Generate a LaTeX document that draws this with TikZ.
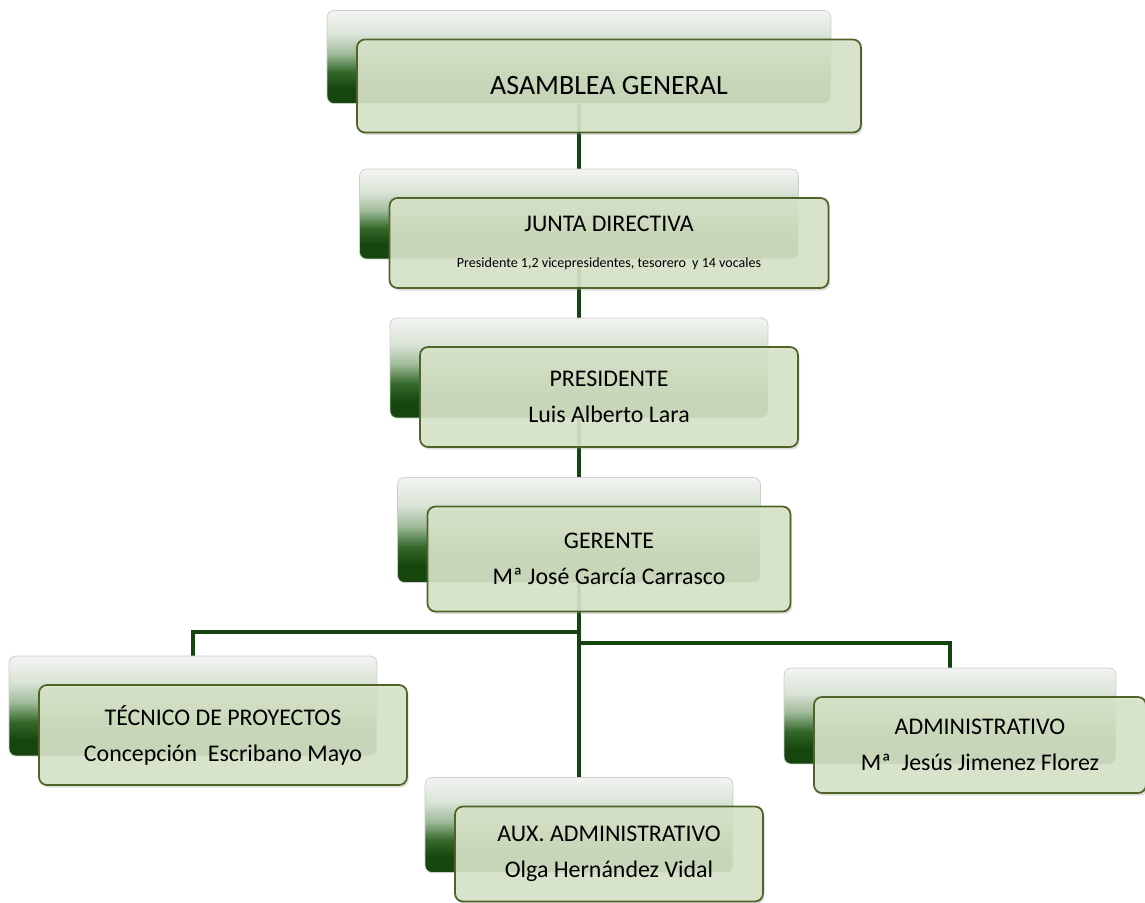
\documentclass[tikz,border=0pt]{standalone}
\usepackage{fontspec}
\setmainfont{Carlito}
\usetikzlibrary{calc, positioning, shadows, backgrounds}
\definecolor{LinkGreen}{RGB}{20,68,16}
\definecolor{FrontFill}{RGB}{216,228,201}
\definecolor{FrontEdge}{RGB}{80,100,42}
\definecolor{BackDark}{RGB}{22,70,14}
\definecolor{BackMid}{RGB}{52,104,42}
\definecolor{BackSoft}{RGB}{160,188,155}
\definecolor{BackLight}{RGB}{218,228,215}
\definecolor{BackTop}{RGB}{243,244,242}
\pgfdeclareverticalshading{backshade}{100bp}{color(0bp)=(BackDark); color(25bp)=(BackDark); color(33bp)=(BackDark); color(42bp)=(BackMid); color(52bp)=(BackSoft); color(62bp)=(BackLight); color(75bp)=(BackTop); color(100bp)=(BackTop)}
\tikzstyle{backbox} = [rectangle, rounded corners=4pt, draw=gray!40, line width=0.4pt, shading=backshade, inner sep=0pt,
	append after command={[draw=white, draw opacity=0.45, line width=1.2pt, rounded corners=3pt] ($(\tikzlastnode.north west)+(3pt,-3pt)$) rectangle ($(\tikzlastnode.south east)+(-3pt,3pt)$)}]
\tikzstyle{frontbox} = [rectangle, rounded corners=4.5pt, draw=FrontEdge, line width=1pt, fill=FrontFill, fill opacity=0.9, text opacity=1, inner sep=0pt, align=center, font=\fontsize{13.6}{20.5}\selectfont, drop shadow={opacity=0.25, shadow xshift=1pt, shadow yshift=-1.5pt},
	append after command={[draw=white, draw opacity=0.5, line width=1pt, rounded corners=3pt] ($(\tikzlastnode.north west)+(3pt,-3pt)$) rectangle ($(\tikzlastnode.south east)+(-3pt,3pt)$)}]
\tikzstyle{link} = [line width=1.8pt, draw=LinkGreen]

\begin{document}
\begin{tikzpicture}[x=0.02cm, y=-0.02cm]
	\useasboundingbox (0,0) rectangle (1145,902);
	
	\node (AsambleaBack) [backbox, minimum width=10.08cm, minimum height=1.86cm] at (579,57) {};
	\node (JuntaBack) [backbox, minimum width=8.78cm, minimum height=1.8cm] at (579,214) {};
	\node (PresidenteBack) [backbox, minimum width=7.56cm, minimum height=2cm] at (579,368) {};
	\node (GerenteBack) [backbox, minimum width=7.26cm, minimum height=2.1cm] at (579,530) {};
	\node (TecnicoBack) [backbox, minimum width=7.36cm, minimum height=2cm] at (193,706) {};
	\node (AuxBack) [backbox, minimum width=6.16cm, minimum height=1.9cm] at (579,825) {};
	\node (AdminBack) [backbox, minimum width=6.64cm, minimum height=1.92cm] at (950,716) {};
	
	\node (Asamblea) [frontbox, minimum width=10.08cm, minimum height=1.86cm, font=\fontsize{15.9}{19}\selectfont] at ($(AsambleaBack)+(30,29)$) {ASAMBLEA GENERAL};
	\node (Junta) [frontbox, minimum width=8.78cm, minimum height=1.8cm] at ($(JuntaBack)+(30,29)$) {JUNTA DIRECTIVA\\[0pt]{\fontsize{8}{9.6}\selectfont Presidente 1,2 vicepresidentes, tesorero~ y 14 vocales}};
	\node (Presidente) [frontbox, minimum width=7.56cm, minimum height=2cm] at ($(PresidenteBack)+(30,29)$) {PRESIDENTE\\Luis Alberto Lara};
	\node (Gerente) [frontbox, minimum width=7.26cm, minimum height=2.1cm] at ($(GerenteBack)+(30,29)$) {GERENTE\\Mª José García Carrasco};
	\node (Tecnico) [frontbox, minimum width=7.36cm, minimum height=2cm] at ($(TecnicoBack)+(30,29)$) {TÉCNICO DE PROYECTOS\\Concepción~ Escribano Mayo};
	\node (Aux) [frontbox, minimum width=6.16cm, minimum height=1.9cm] at ($(AuxBack)+(30,29)$) {AUX. ADMINISTRATIVO\\Olga Hernández Vidal};
	\node (Admin) [frontbox, minimum width=6.64cm, minimum height=1.92cm] at ($(AdminBack)+(30,29)$) {ADMINISTRATIVO\\Mª~ Jesús Jimenez Florez};
	
	\coordinate (ForkLeft) at (579,632);
	\coordinate (ForkRight) at (579,643);
	
	\begin{scope}[on background layer]
		\draw [link] (AsambleaBack) -- (JuntaBack) -- (PresidenteBack) -- (GerenteBack) -- (AuxBack);
		\draw [link] (ForkLeft) -| (TecnicoBack);
		\draw [link] (ForkRight) -| (AdminBack);
	\end{scope}
\end{tikzpicture}
\end{document}
